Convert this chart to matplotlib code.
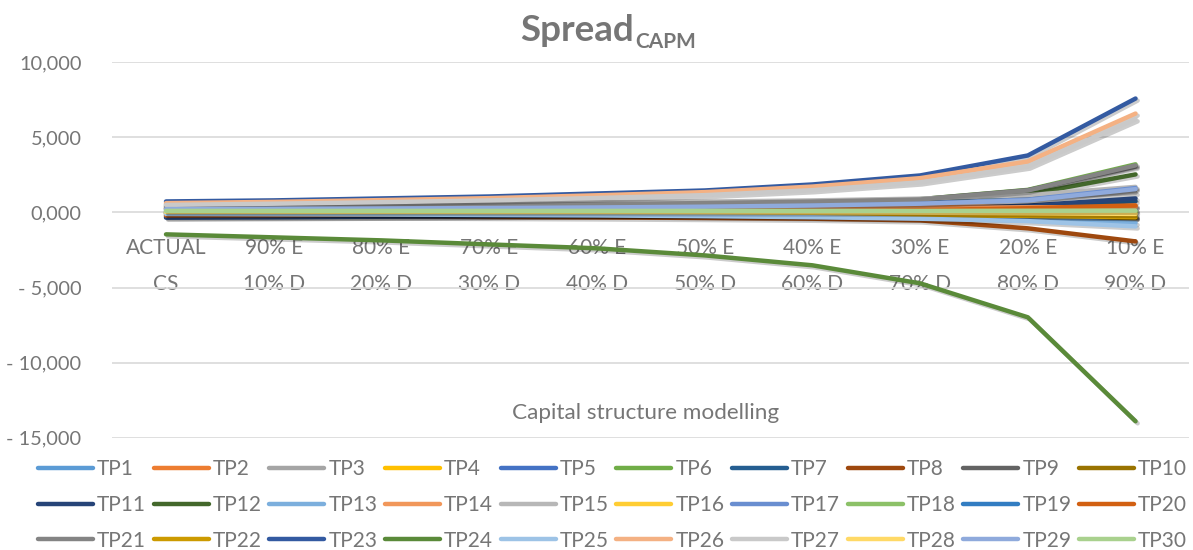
import numpy as np
import matplotlib as mpl
import matplotlib.pyplot as plt
import matplotlib.transforms as mtransforms
import matplotlib.patheffects as pe

plt.rcParams['font.family'] = ['Lato', 'DejaVu Sans']

cats = ["ACTUAL\nCS", "90% E\n10% D", "80% E\n20% D", "70% E\n30% D", "60% E\n40% D",
        "50% E\n50% D", "40% E\n60% D", "30% E\n70% D", "20% E\n80% D", "10% E\n90% D"]

# series values
tp = {}
tp["TP1"] = [0.02, 0.02, 0.01, 0.01, 0.00, -0.01, -0.03, -0.06, -0.12, -0.25]
tp["TP2"] = [0.30, 0.31, 0.32, 0.33, 0.34, 0.35, 0.36, 0.37, 0.38, 0.40]
tp["TP3"] = [0.52, 0.54, 0.56, 0.58, 0.61, 0.65, 0.70, 0.78, 0.95, 1.30]
tp["TP4"] = [-0.05, -0.05, -0.06, -0.07, -0.08, -0.10, -0.12, -0.16, -0.22, -0.35]
tp["TP5"] = [0.10, 0.10, 0.10, 0.11, 0.11, 0.12, 0.12, 0.13, 0.14, 0.15]
tp["TP6"] = [0.30, 0.33, 0.37, 0.42, 0.48, 0.56, 0.68, 0.88, 1.50, 3.20]
tp["TP7"] = [-0.30, -0.28, -0.25, -0.22, -0.17, -0.11, -0.02, 0.12, 0.35, 0.75]
tp["TP8"] = [-0.22, -0.24, -0.27, -0.30, -0.33, -0.37, -0.42, -0.53, -1.06, -1.93]
tp["TP9"] = [0.42, 0.45, 0.48, 0.52, 0.57, 0.64, 0.74, 0.88, 1.48, 3.05]
tp["TP10"] = [-0.10, -0.10, -0.11, -0.12, -0.13, -0.15, -0.17, -0.20, -0.26, -0.38]
tp["TP11"] = [-0.35, -0.32, -0.28, -0.24, -0.18, -0.10, 0.02, 0.20, 0.45, 0.93]
tp["TP12"] = [0.20, 0.22, 0.25, 0.29, 0.34, 0.41, 0.52, 0.73, 1.20, 2.53]
tp["TP13"] = [-0.05, -0.06, -0.08, -0.10, -0.13, -0.17, -0.22, -0.30, -0.42, -0.70]
tp["TP14"] = [0.25, 0.26, 0.27, 0.28, 0.29, 0.30, 0.31, 0.32, 0.34, 0.36]
tp["TP15"] = [0.55, 0.57, 0.60, 0.63, 0.67, 0.72, 0.80, 0.92, 1.15, 1.70]
tp["TP16"] = [0.00, 0.00, -0.01, -0.02, -0.03, -0.04, -0.06, -0.09, -0.14, -0.22]
tp["TP17"] = [0.25, 0.27, 0.29, 0.32, 0.36, 0.42, 0.50, 0.62, 0.85, 1.62]
tp["TP18"] = [0.06, 0.06, 0.06, 0.06, 0.06, 0.06, 0.06, 0.06, 0.06, 0.06]
tp["TP19"] = [-0.02, -0.02, -0.03, -0.04, -0.05, -0.07, -0.09, -0.13, -0.19, -0.30]
tp["TP20"] = [-0.20, -0.18, -0.15, -0.12, -0.08, -0.03, 0.05, 0.15, 0.28, 0.47]
tp["TP21"] = [0.40, 0.43, 0.46, 0.50, 0.55, 0.62, 0.72, 0.86, 1.46, 3.13]
tp["TP22"] = [-0.08, -0.08, -0.09, -0.10, -0.11, -0.13, -0.15, -0.18, -0.23, -0.32]
tp["TP23"] = [0.73, 0.80, 0.93, 1.06, 1.26, 1.46, 1.86, 2.46, 3.79, 7.58]
tp["TP24"] = [-1.46, -1.66, -1.86, -2.13, -2.39, -2.86, -3.52, -4.72, -6.98, -13.90]
tp["TP25"] = [-0.10, -0.12, -0.14, -0.17, -0.20, -0.25, -0.32, -0.42, -0.58, -0.93]
tp["TP26"] = [0.62, 0.70, 0.82, 0.95, 1.14, 1.35, 1.72, 2.28, 3.39, 6.58]
tp["TP27"] = [0.50, 0.58, 0.68, 0.80, 0.96, 1.15, 1.48, 2.00, 3.05, 6.20]
tp["TP28"] = [0.03, 0.03, 0.03, 0.02, 0.02, 0.01, 0.00, -0.02, -0.05, -0.10]
tp["TP29"] = [0.22, 0.24, 0.26, 0.29, 0.33, 0.38, 0.46, 0.58, 0.80, 1.55]
tp["TP30"] = [0.10, 0.10, 0.10, 0.10, 0.10, 0.10, 0.10, 0.10, 0.11, 0.12]

colors = ["#5B9BD5", "#ED7D31", "#A5A5A5", "#FFC000", "#4472C4", "#70AD47",
          "#255E91", "#9E480E", "#636363", "#997300", "#264478", "#43682B",
          "#7CAFDD", "#F1975A", "#B7B7B7", "#FFCD33", "#698ED0", "#8CC168",
          "#327DC2", "#D26012", "#848484", "#CC9A00", "#335AA1", "#5A8A39",
          "#9DC3E6", "#F4B183", "#C9C9C9", "#FFD966", "#8FAADC", "#A9D18E"]

yticks = [10, 5, 0, -5, -10, -15]

txtc = "#767676"
fs = 14.4
fig = plt.figure(figsize=(11.93, 5.5), dpi=100)
ax = fig.add_axes([0.094, 0.204, 0.903, 0.683])

x = np.arange(len(cats))
names = list(tp.keys())
lines = []
for i, n in enumerate(names):
    ln, = ax.plot(x, tp[n], color=colors[i], lw=3.2, label=n, solid_capstyle='round',
                  path_effects=[pe.SimpleLineShadow(offset=(1.5, -1.5), shadow_color='k', alpha=0.2),
                                pe.Normal()])
    lines.append(ln)

ax.set_xlim(-0.5, len(cats) - 0.5)
ax.set_ylim(-15, 10)
ax.set_yticks(yticks)
# comma decimal separator, "- " prefix for negatives
ax.set_yticklabels([("- " if v < 0 else "") + ("%.3f" % abs(v)).replace(".", ",") for v in yticks])
ax.tick_params(axis='y', length=0, pad=22, labelcolor=txtc, labelsize=fs)
ax.set_xticks([])
ax.grid(axis='y', color='#D9D9D9', lw=1.2)
ax.set_axisbelow(True)
for s in ax.spines.values():
    s.set_visible(False)

# category labels hang below the zero line
off = mtransforms.offset_copy(ax.transData, fig=fig, y=-26, units='dots')
for i, c in enumerate(cats):
    ax.text(x[i], 0, c, transform=off, ha='center', va='top', fontsize=15,
            color=txtc, linespacing=1.95, zorder=0.5)

ax.text(0.495, 0.066, "Capital structure modelling", transform=ax.transAxes,
        ha='center', va='center', fontsize=16.2, color=txtc)

t = fig.text(0.531, 0.945, "Spread", ha='right', va='center', fontsize=26.5,
             fontweight='bold', color=txtc)
ax.annotate("CAPM", xy=(1, 0), xycoords=t, xytext=(1, -4), textcoords='offset points',
            ha='left', va='bottom', fontsize=15, fontweight='bold', color=txtc,
            annotation_clip=False)

# legend reads row-wise: TP1..TP10 on the first row
order = [r * 10 + c for c in range(10) for r in range(3)]
leg = fig.legend([lines[k] for k in order], [names[k] for k in order], ncol=10,
                 loc='lower left', bbox_to_anchor=(0.023, -0.02), frameon=False,
                 borderpad=0, fontsize=15, handlelength=2.65, handletextpad=0.2,
                 columnspacing=0.35, labelspacing=0.75, labelcolor=txtc)
for h in leg.legend_handles:
    h.set_path_effects([])
    h.set_linewidth(3.2)

fig.savefig("out.png", dpi=100)
